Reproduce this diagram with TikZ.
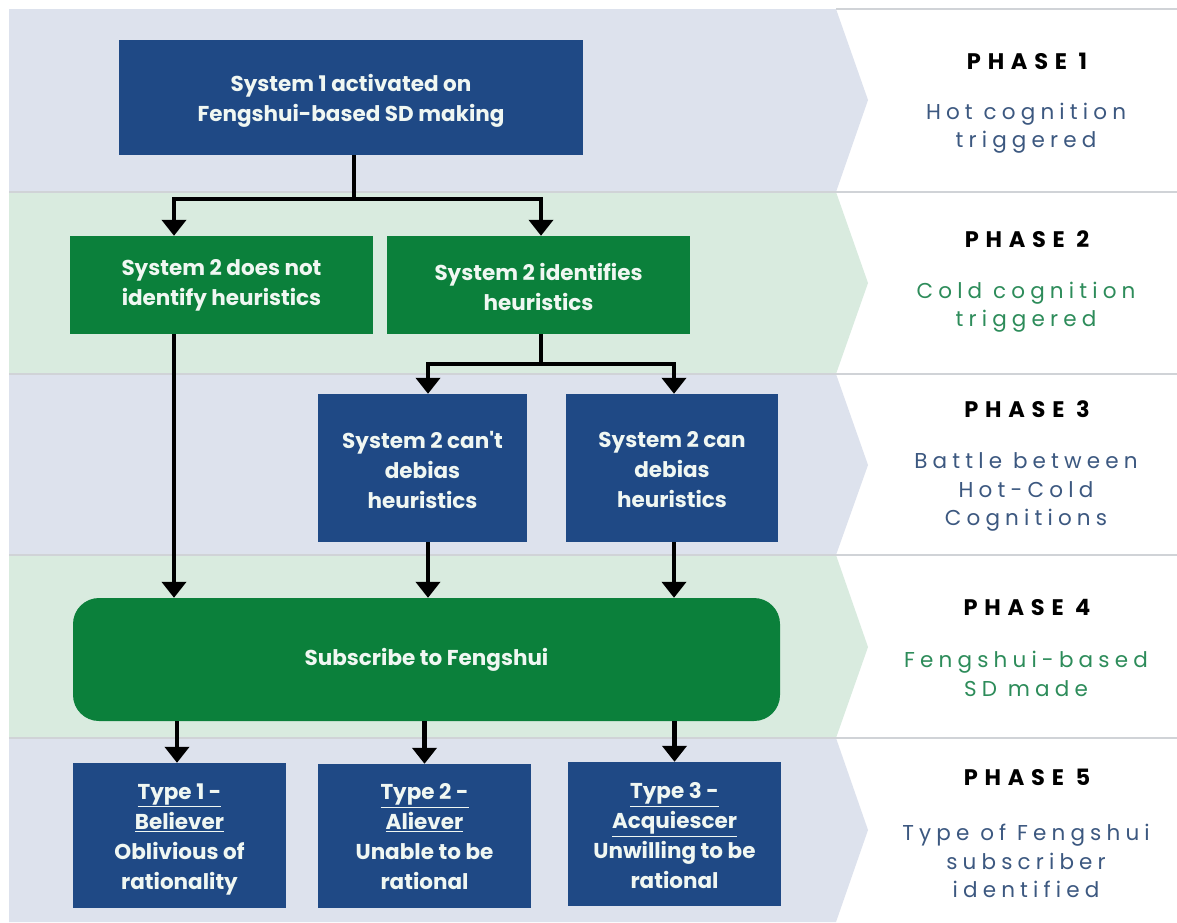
\documentclass[tikz,border=0pt]{standalone}
\usepackage{fontspec}
\setmainfont{Poppins}
\newfontfamily\boxfont{Poppins}
\newfontfamily\phasefont[LetterSpace=24]{Poppins}
\newfontfamily\phasetitlefont[LetterSpace=30]{Poppins}
\usetikzlibrary{arrows.meta}

\definecolor{bandblue}{RGB}{221,226,237}
\definecolor{bandgreen}{RGB}{217,235,223}
\definecolor{boxblue}{RGB}{31,73,133}
\definecolor{boxgreen}{RGB}{11,128,59}
\definecolor{subblue}{RGB}{60,88,128}
\definecolor{subgreen}{RGB}{45,140,90}
\definecolor{sepgray}{RGB}{208,211,215}
\definecolor{boxtext}{RGB}{240,247,242}

\tikzset{
  boxtxt/.style={inner sep=0pt, align=center, text=boxtext,
    font=\boxfont\bfseries\fontsize{21.5}{30}\selectfont},
  box/.style={inner sep=0pt},
  bluebox/.style={box, fill=boxblue},
  greenbox/.style={box, fill=boxgreen},
  % box caption placed at the box centre, nudged down by #1
  caption/.style 2 args={label={[boxtxt, yshift=-#1]center:{#2}}},
  conn/.style={line width=4.5pt, draw=black},
  arr/.style={conn, -{Triangle[width=24pt,length=16pt]}},
  phasetitle/.style={font=\phasetitlefont\bfseries\fontsize{22.5}{24}\selectfont, text=black},
  phasesub/.style={align=center, font=\phasefont\fontsize{21.5}{28.5}\selectfont},
}

\begin{document}
\begin{tikzpicture}[x=1pt, y=-1pt]
\useasboundingbox (0,0) rectangle (1177,922);
\fill[white] (0,0) rectangle (1177,922);

% phase bands with chevron ends
\fill[bandblue]  (9,9)   -- (836,9)   -- (868,100) -- (836,192) -- (9,192) -- cycle;
\fill[bandgreen] (9,192) -- (836,192) -- (868,283) -- (836,374) -- (9,374) -- cycle;
\fill[bandblue]  (9,374) -- (836,374) -- (868,465) -- (836,555) -- (9,555) -- cycle;
\fill[bandgreen] (9,555) -- (836,555) -- (868,647) -- (836,738) -- (9,738) -- cycle;
\fill[bandblue]  (9,738) -- (836,738) -- (868,830) -- (836,922) -- (9,922) -- cycle;

% separators between phases
\draw[sepgray, line width=1.2pt] (836,9) -- (1177,9);
\foreach \yy in {192,374,555,738}
  \draw[sepgray, line width=1.2pt] (9,\yy) -- (1177,\yy);

% flow boxes
\node[bluebox, minimum width=464pt, minimum height=115pt,
  caption={3pt}{System 1 activated on\\Fengshui-based SD making}] (A) at (351,97.5) {};
\node[greenbox, minimum width=303pt, minimum height=98pt,
  caption={0pt}{System 2 does not\\identify heuristics}] (B) at (221.5,285) {};
\node[greenbox, minimum width=303pt, minimum height=98pt,
  caption={2pt}{System 2 identifies\\heuristics}] (C) at (538.5,285) {};
\node[bluebox, minimum width=209pt, minimum height=148pt,
  caption={2pt}{System 2 can't\\debias\\heuristics}] (D) at (422.5,468) {};
\node[bluebox, minimum width=212pt, minimum height=148pt,
  caption={2pt}{System 2 can\\debias\\heuristics}] (E) at (672,468) {};
\node[greenbox, rounded corners=26pt, minimum width=707pt, minimum height=123pt,
  caption={0pt}{Subscribe to Fengshui}] (F) at (426.5,659.5) {};
\node[bluebox, minimum width=213pt, minimum height=145pt,
  caption={4pt}{\underline{Type 1 -}\\\underline{Believer}\\Oblivious of\\rationality}] (G) at (179.5,835.5) {};
\node[bluebox, minimum width=213pt, minimum height=144pt,
  caption={1pt}{\underline{Type 2 -}\\\underline{Aliever}\\Unable to be\\rational}] (H) at (424.5,836) {};
\node[bluebox, minimum width=213pt, minimum height=144pt,
  caption={2pt}{\underline{Type 3 -}\\\underline{Acquiescer}\\Unwilling to be\\rational}] (I) at (674.5,834) {};

% branching levels
\coordinate (bus1) at (0,199);
\coordinate (bus2) at (0,364);
\coordinate (Bin) at ([xshift=-47.5pt]B.north);
\coordinate (Bout) at ([xshift=-47.5pt]B.south);
\coordinate (Aout) at ([xshift=3pt]A.south);
\coordinate (Cout) at ([xshift=2.5pt]C.south);
\coordinate (Cin) at ([xshift=2.5pt]C.north);
\coordinate (Din) at ([xshift=5.5pt]D.north);
\coordinate (Dout) at ([xshift=5.5pt]D.south);
\coordinate (Ein) at ([xshift=2pt]E.north);
\coordinate (Eout) at ([xshift=2pt]E.south);

% connectors
\draw[arr] (Aout) -- (Aout |- bus1) -| (Bin);
\draw[arr] (Aout) -- (Aout |- bus1) -| (Cin);
\draw[arr] (Cout) -- (Cout |- bus2) -| (Din);
\draw[arr] (Cout) -- (Cout |- bus2) -| (Ein);
\draw[arr] (Bout) -- (Bout |- F.north);
\draw[arr] (Dout) -- (Dout |- F.north);
\draw[arr] (Eout) -- (Eout |- F.north);
\draw[arr] ([xshift=-2.5pt]G.north |- F.south) -- ([xshift=-2.5pt]G.north);
\draw[arr] (H.north |- F.south) -- (H.north);
\draw[arr] (I.north |- F.south) -- (I.north);

% phase captions
\node[phasetitle] (p1) at (1027,61) {PHASE 1};
\node[phasesub, text=subblue] (s1) at (1026,128) {Hot cognition\\triggered};
\node[phasetitle] (p2) at (1027,239) {PHASE 2};
\node[phasesub, text=subgreen] (s2) at (1026,307) {Cold cognition\\triggered};
\node[phasetitle] (p3) at (1027,409) {PHASE 3};
\node[phasesub, text=subblue] (s3) at (1026,492) {Battle between\\Hot-Cold\\Cognitions};
\node[phasetitle] (p4) at (1027,607) {PHASE 4};
\node[phasesub, text=subgreen] (s4) at (1026,674) {Fengshui-based\\SD made};
\node[phasetitle] (p5) at (1027,777) {PHASE 5};
\node[phasesub, text=subblue] (s5) at (1026,861) {Type of Fengshui\\subscriber\\identified};
\end{tikzpicture}
\end{document}
